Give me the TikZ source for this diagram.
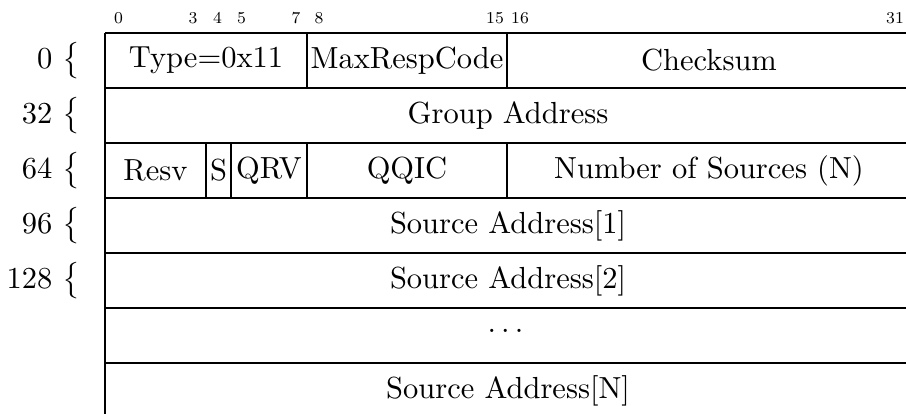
\documentclass[tikz,border=0pt]{standalone}
\begin{document}
\begin{tikzpicture}[x=0.3279pt,y=-0.3279pt,
  field/.style={inner sep=0pt},
  bitnum/.style={anchor=base, inner sep=0pt},
  offset/.style={anchor=east, inner sep=0pt},
  rule/.style={line width=0.4pt}]
\newcommand{\bitlabel}[1]{\scalebox{0.68}{\footnotesize #1}}
\path[use as bounding box] (0,0) rectangle (906,414);

% bit positions above the header
\node[bitnum] (b0)  at (118.5,23.5) {\bitlabel{0}};
\node[bitnum] (b3)  at (193,23.5)   {\bitlabel{3}};
\node[bitnum] (b4)  at (217.5,23.5) {\bitlabel{4}};
\node[bitnum] (b5)  at (241.5,23.5) {\bitlabel{5}};
\node[bitnum] (b7)  at (296,23.5)   {\bitlabel{7}};
\node[bitnum] (b8)  at (319,23.5)   {\bitlabel{8}};
\node[bitnum] (b15) at (495,23.5)   {\bitlabel{15}};
\node[bitnum] (b16) at (520,23.5)   {\bitlabel{16}};
\node[bitnum] (b31) at (895,23.5)   {\bitlabel{31}};

% horizontal rules between the 32-bit words
\foreach \y in {33,88,143,198,253,308,363}
  \draw[rule] (105,\y) -- (906,\y);
% left edge of the packet
\draw[rule] (105,33) -- (105,414);
% field separators, first word
\draw[rule] (307,33) -- (307,88);
\draw[rule] (507,33) -- (507,88);
% field separators, third word
\draw[rule] (206,143) -- (206,198);
\draw[rule] (231,143) -- (231,198);
\draw[rule] (307,143) -- (307,198);
\draw[rule] (507,143) -- (507,198);

% word offsets
\node[offset] (o0)   at (81,60.5)  {0 $\big\{$};
\node[offset] (o32)  at (81,115.5) {32 $\big\{$};
\node[offset] (o64)  at (81,170.5) {64 $\big\{$};
\node[offset] (o96)  at (81,225.5) {96 $\big\{$};
\node[offset] (o128) at (81,280.5) {128 $\big\{$};

% fields
\node[field] (type)  at (206,60.5)   {Type=0x11};
\node[field] (mrc)   at (407,60.5)   {MaxRespCode};
\node[field] (csum)  at (709,60.5)   {Checksum};
\node[field] (grp)   at (508,115.5)  {Group Address};
\node[field] (resv)  at (155.5,170.5) {Resv};
\node[field] (sflag) at (218.5,170.5) {S};
\node[field] (qrv)   at (269,170.5)  {QRV};
\node[field] (qqic)  at (407,170.5)  {QQIC};
\node[field] (nsrc)  at (709,170.5)  {Number of Sources (N)};
\node[field] (src1)  at (508,225.5)  {Source Address[1]};
\node[field] (src2)  at (508,280.5)  {Source Address[2]};
\node[field] (more)  at (508,331)    {.\kern.1667em.\kern.1667em.\kern.1667em};
\node[field] (srcN)  at (508,390.5)  {Source Address[N]};
\end{tikzpicture}
\end{document}
